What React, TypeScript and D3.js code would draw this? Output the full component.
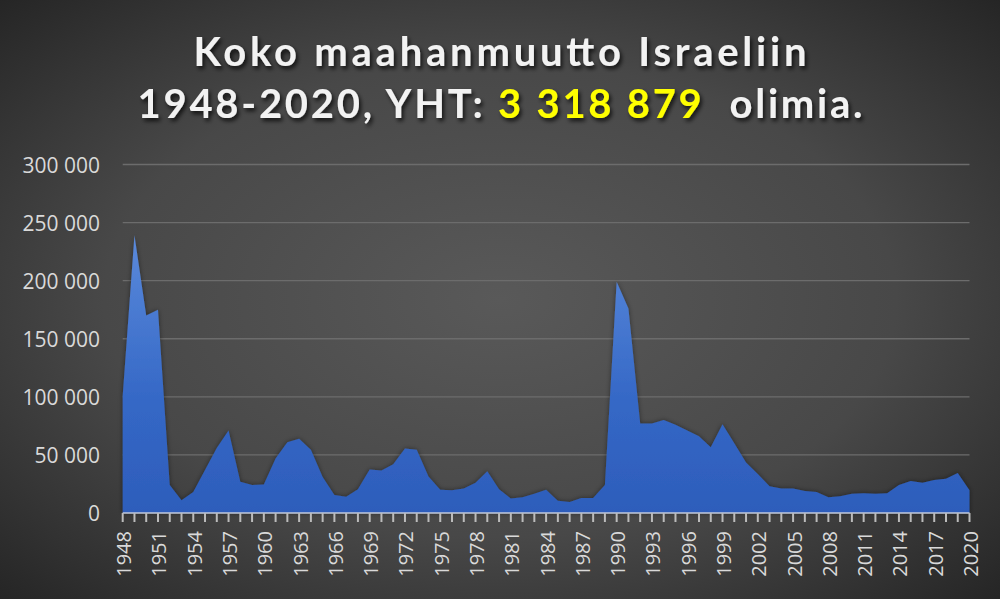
import React from "react";
import * as d3 from "d3";

const years: number[] = d3.range(1948, 2021);
const immigrants: number[] = [
  101000, 239000, 170000, 175000, 24000, 11000, 18000, 37000, 56000, 71000,
  27000, 24000, 24500, 47000, 61000, 64000, 54500, 31000, 15500, 14000,
  20500, 37500, 36500, 42000, 55500, 54500, 31500, 20000, 19500, 21000,
  26000, 36000, 20500, 12500, 13500, 16500, 20000, 10500, 9500, 13000,
  13000, 24000, 199000, 176000, 77000, 77000, 80000, 76000, 71000, 66000,
  56500, 76500, 60000, 43500, 33500, 23000, 21000, 21000, 19000, 18000,
  13500, 14500, 16500, 17000, 16500, 17000, 24000, 27500, 26000, 28500,
  29500, 34500, 19500,
];
const yTicks: number[] = [0, 50000, 100000, 150000, 200000, 250000, 300000];
const titleLine1 = "Koko maahanmuutto Israeliin";
const titleLine2a = "1948-2020, YHT: ";
const titleTotal = "3 318 879";
const titleLine2b = "  olimia.";

const W = 1000;
const H = 599;
const left = 122.7;
const right = 969.5;
const top = 164.5;
const bottom = 513;

export default function App() {
  const x = d3.scaleLinear().domain([years[0], years[years.length - 1]]).range([left, right]);
  const y = d3.scaleLinear().domain([0, 300000]).range([bottom, top]);
  const area = d3
    .area<number>()
    .x((_, i) => x(years[i]))
    .y0(y(0))
    .y1((d) => y(d));
  const fmt = (v: number) => (v === 0 ? "0" : d3.format(",")(v).replace(/,/g, " "));
  const labelYears = years.filter((yr) => (yr - 1948) % 3 === 0);

  return (
    <svg
      width={W}
      height={H}
      viewBox={`0 0 ${W} ${H}`}
      style={{ position: "absolute", left: 0, top: 0, display: "block" }}
    >
      <defs>
        <radialGradient id="bg" cx="0.5" cy="0.5" r="0.72">
          <stop offset="0" stopColor="#595959" />
          <stop offset="0.55" stopColor="#484848" />
          <stop offset="1" stopColor="#242424" />
        </radialGradient>
        <linearGradient id="areaFill" gradientUnits="userSpaceOnUse" x1="0" y1={230} x2="0" y2={bottom}>
          <stop offset="0" stopColor="#5c8bdc" />
          <stop offset="0.6" stopColor="#3568c6" />
          <stop offset="1" stopColor="#2d5dbb" />
        </linearGradient>
        <filter id="titleShadow" x="-10%" y="-30%" width="120%" height="160%">
          <feDropShadow dx="2" dy="3" stdDeviation="2" floodColor="#000" floodOpacity="0.75" />
        </filter>
        <filter id="areaShadow" x="-5%" y="-5%" width="110%" height="110%">
          <feDropShadow dx="0" dy="0" stdDeviation="2.5" floodColor="#000" floodOpacity="0.45" />
        </filter>
      </defs>
      <rect x={0} y={0} width={W} height={H} fill="url(#bg)" />

      {/* gridlines */}
      {yTicks.slice(1).map((t) => (
        <line key={t} x1={left} x2={right} y1={y(t)} y2={y(t)} stroke="#6c6c6c" strokeWidth={1.3} />
      ))}

      {/* y labels */}
      {yTicks.map((t) => (
        <text
          key={t}
          x={100}
          y={y(t)}
          textAnchor="end"
          dominantBaseline="central"
          fontFamily="'Open Sans', sans-serif"
          fontSize={21}
          fill="#d9d9d9"
        >
          {fmt(t)}
        </text>
      ))}

      {/* area */}
      <path d={area(immigrants) || ""} fill="url(#areaFill)" filter="url(#areaShadow)" />

      {/* axis */}
      <line x1={left} x2={right} y1={bottom} y2={bottom} stroke="#c3cbdc" strokeWidth={1.5} />
      {years.map((yr) => (
        <line key={yr} x1={x(yr)} x2={x(yr)} y1={bottom} y2={bottom + 9} stroke="#bcbcbc" strokeWidth={2} />
      ))}
      {labelYears.map((yr) => (
        <text
          key={yr}
          transform={`translate(${x(yr) + 1},531) rotate(-90)`}
          textAnchor="end"
          dominantBaseline="central"
          fontFamily="'Open Sans', sans-serif"
          fontSize={20}
          fill="#d9d9d9"
        >
          {yr}
        </text>
      ))}

      {/* title */}
      <g filter="url(#titleShadow)" fontFamily="Lato, 'Open Sans', sans-serif" fontWeight="bold" fontSize={40}>
        <text x={500} y={66} textAnchor="middle" fill="#f2f2f2" textLength={613} lengthAdjust="spacing">
          {titleLine1}
        </text>
        <text x={500} y={118} textAnchor="middle" fill="#f2f2f2" textLength={725} lengthAdjust="spacing" xmlSpace="preserve" style={{ whiteSpace: "pre" }}>
          <tspan>{titleLine2a}</tspan>
          <tspan fill="#ffff00">{titleTotal}</tspan>
          <tspan>{titleLine2b}</tspan>
        </text>
      </g>
    </svg>
  );
}
